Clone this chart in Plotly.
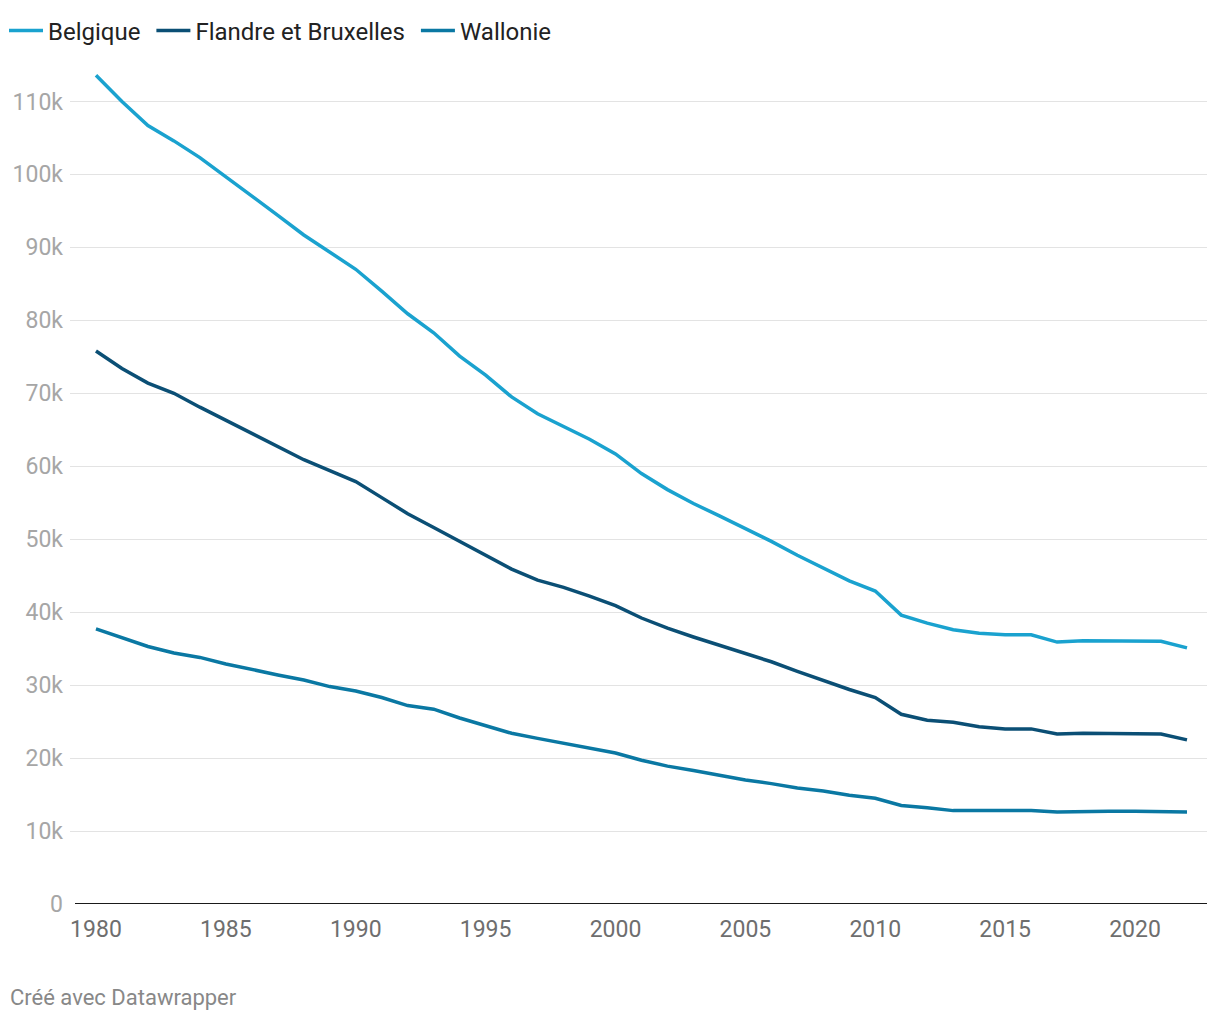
import plotly.graph_objects as go

years = [1980, 1981, 1982, 1983, 1984, 1985, 1986, 1987, 1988, 1989,
         1990, 1991, 1992, 1993, 1994, 1995, 1996, 1997, 1998, 1999,
         2000, 2001, 2002, 2003, 2004, 2005, 2006, 2007, 2008, 2009,
         2010, 2011, 2012, 2013, 2014, 2015, 2016, 2017, 2018, 2019,
         2020, 2021, 2022]

belgique = [113600, 110000, 106700, 104600, 102300, 99700, 97000, 94400, 91700, 89300,
            87000, 84000, 80900, 78300, 75100, 72500, 69500, 67200, 65500, 63700,
            61700, 59000, 56800, 54900, 53200, 51500, 49700, 47800, 46000, 44300,
            42900, 39600, 38500, 37600, 37100, 36900, 36900, 35900, 36100, 36100,
            36000, 36000, 35100]

flandre = [75800, 73400, 71400, 70000, 68100, 66300, 64500, 62700, 60900, 59400,
           57900, 55700, 53500, 51600, 49700, 47900, 45900, 44400, 43400, 42200,
           40900, 39200, 37800, 36600, 35500, 34300, 33200, 31900, 30600, 29400,
           28300, 26000, 25200, 24900, 24300, 24000, 24000, 23300, 23400, 23400,
           23300, 23300, 22500]

wallonie = [37700, 36500, 35300, 34400, 33800, 32900, 32100, 31400, 30700, 29800,
            29200, 28300, 27200, 26700, 25500, 24500, 23400, 22700, 22000, 21400,
            20700, 19700, 18900, 18300, 17600, 17000, 16500, 15900, 15500, 14900,
            14500, 13500, 13200, 12800, 12800, 12800, 12800, 12600, 12700, 12700,
            12700, 12700, 12600]

series_names = ["Belgique", "Flandre et Bruxelles", "Wallonie"]
series_colors = ["#1aa2cf", "#0b4f75", "#0a78a3"]

y_tickvals = [0, 10000, 20000, 30000, 40000, 50000, 60000, 70000, 80000, 90000, 100000, 110000]
y_ticktext = ["0", "10k", "20k", "30k", "40k", "50k", "60k", "70k", "80k", "90k", "100k", "110k"]
x_tickvals = [1980, 1985, 1990, 1995, 2000, 2005, 2010, 2015, 2020]

W, H = 1220, 1020
ML, MR, MT, MB = 70, 13, 65, 116
PW = W - ML - MR
PH = H - MT - MB

fig = go.Figure()
for name, vals, col in zip(series_names, [belgique, flandre, wallonie], series_colors):
    # a trailing no-break space widens the gap between legend entries
    fig.add_trace(go.Scatter(x=years, y=vals, name=name + "\u00a0", mode="lines",
                             line=dict(color=col, width=3.5), hoverinfo="skip"))

fig.update_layout(
    width=W, height=H,
    margin=dict(l=ML, r=MR, t=MT, b=MB, pad=0, autoexpand=False),
    paper_bgcolor="white", plot_bgcolor="white",
    font=dict(family="Roboto", color="#222222"),
    showlegend=True,
    legend=dict(orientation="h", xref="container", yref="container",
                x=4 / W, xanchor="left",
                y=1 - 31 / H, yanchor="middle",
                font=dict(size=24, color="#222222"),
                itemwidth=34, tracegroupgap=0, bgcolor="rgba(0,0,0,0)"),
    xaxis=dict(range=[1979.0, 2022.77], tickvals=x_tickvals, showgrid=False,
               zeroline=False, showline=False, ticks="", automargin=False,
               tickfont=dict(size=23, color="#6e6e6e"), ticklabelstandoff=9,
               fixedrange=True),
    yaxis=dict(range=[0, 115000], tickvals=y_tickvals, ticktext=y_ticktext,
               showgrid=True, gridcolor="#e3e3e3", gridwidth=1,
               zeroline=False, showline=False, ticks="", automargin=False,
               tickfont=dict(size=23, color="#a6a6a6"), ticklabelstandoff=6,
               fixedrange=True),
    shapes=[dict(type="line", xref="paper", yref="y", x0=5 / PW, x1=1, y0=0, y1=0,
                 line=dict(color="#1a1a1a", width=2))],
    annotations=[dict(text="Créé avec Datawrapper", xref="paper", yref="paper",
                      x=(8 - ML) / PW, y=-(997 - (MT + PH)) / PH, xanchor="left",
                      yanchor="middle", showarrow=False,
                      font=dict(size=22, color="#888888"))],
)

fig.write_html("out.html", config={"displayModeBar": False},
               post_script="document.body.style.margin='0';document.body.style.overflow='hidden';")
